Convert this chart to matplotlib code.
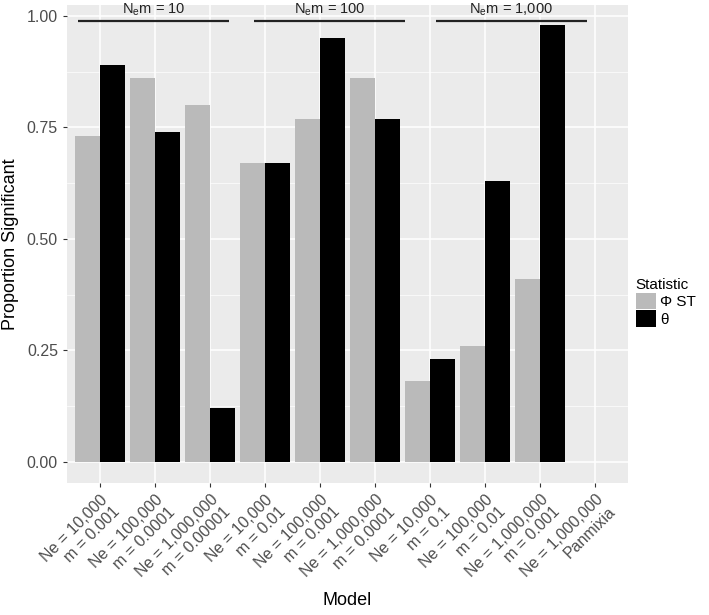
import matplotlib.pyplot as plt
import numpy as np

plt.rcParams['font.family'] = ['Liberation Sans', 'DejaVu Sans']
plt.rcParams['mathtext.fontset'] = 'custom'
plt.rcParams['mathtext.rm'] = 'Liberation Sans'

models = ["Ne = 10,000\nm = 0.001", "Ne = 100,000\nm = 0.0001",
          "Ne = 1,000,000\nm = 0.00001", "Ne = 10,000\nm = 0.01",
          "Ne = 100,000\nm = 0.001", "Ne = 1,000,000\nm = 0.0001",
          "Ne = 10,000\nm = 0.1", "Ne = 100,000\nm = 0.01",
          "Ne = 1,000,000\nm = 0.001", "Ne = 1,000,000\nPanmixia"]
phi_st = [0.73, 0.86, 0.80, 0.67, 0.77, 0.86, 0.18, 0.26, 0.41, 0.0]
theta = [0.89, 0.74, 0.12, 0.67, 0.95, 0.77, 0.23, 0.63, 0.98, 0.0]
group_labels = [r"N$_\mathrm{e}$m = 10", r"N$_\mathrm{e}$m = 100",
                r"N$_\mathrm{e}$m = 1,000"]
group_spans = [(-0.4, 2.35), (2.8, 5.55), (6.1, 8.85)]

fig = plt.figure(figsize=(7.09, 6.15), dpi=100)
ax = fig.add_axes([0.0945, 0.2146, 0.7915, 0.7774])
ax.set_facecolor("#EBEBEB")

x = np.arange(len(models))
w = 0.45
ax.bar(x - w / 2, phi_st, width=w, color="#BABABA", label="Φ ST", zorder=3)
ax.bar(x + w / 2, theta, width=w, color="black", label="θ", zorder=3)

for (x0, x1), lab in zip(group_spans, group_labels):
    ax.plot([x0, x1], [0.99, 0.99], color="#222222", lw=1.6, zorder=4,
            solid_capstyle="butt")
    ax.text((x0 + x1) / 2, 0.995, lab, ha="center", va="bottom",
            fontsize=10.5, color="#222222", zorder=4)

ax.set_xlim(-0.6, 9.6)
ax.set_ylim(-0.048, 1.025)
ax.set_yticks([0, 0.25, 0.5, 0.75, 1.0])
ax.set_yticklabels(["0.00", "0.25", "0.50", "0.75", "1.00"])
ax.set_yticks([0.125, 0.375, 0.625, 0.875], minor=True)
ax.set_xticks(x)
ax.set_xticklabels(models, rotation=45, ha="right", va="top",
                   rotation_mode="anchor", multialignment="right")
ax.grid(which="major", color="white", lw=1.1, zorder=0)
ax.grid(which="minor", axis="y", color="white", lw=0.5, zorder=0)
for s in ax.spines.values():
    s.set_visible(False)
ax.tick_params(axis="both", which="major", colors="#333333", length=3,
               labelcolor="#4D4D4D", labelsize=11.5)
ax.tick_params(axis="y", which="minor", length=0)

ax.set_xlabel("Model", fontsize=13, va="center")
ax.xaxis.set_label_coords(0.5, -0.245)
ax.set_ylabel("Proportion Significant", fontsize=13, labelpad=6)

leg = ax.legend(title="Statistic", loc="upper left", bbox_to_anchor=(1.0, 0.445),
                frameon=False, fontsize=11, title_fontsize=11,
                handlelength=1.3, handleheight=1.3, handletextpad=0.3,
                labelspacing=0.05, borderaxespad=0.3, borderpad=0.2)
leg._legend_box.align = "left"

fig.savefig("out.png", dpi=100)
